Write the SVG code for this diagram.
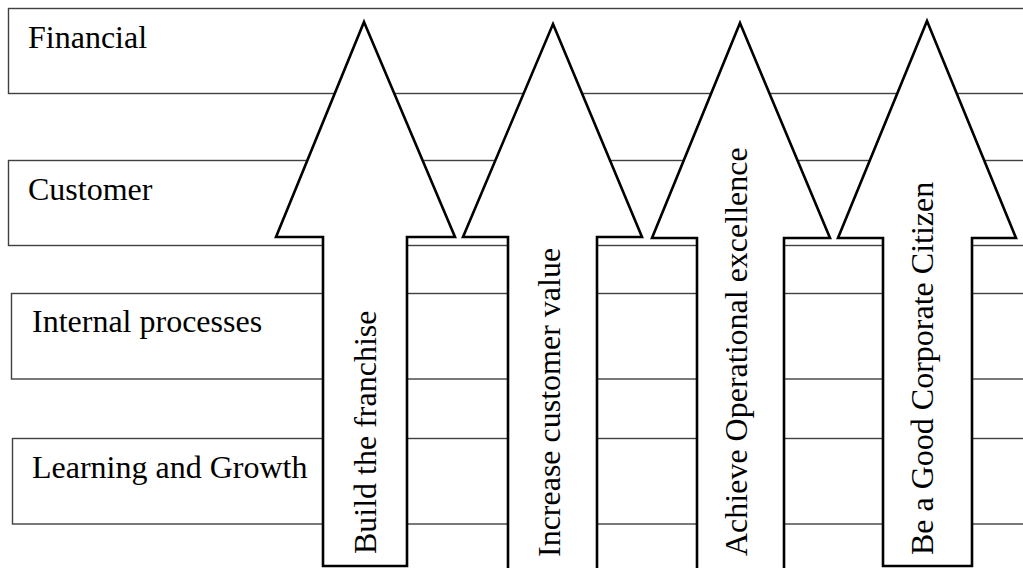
<svg xmlns="http://www.w3.org/2000/svg" width="1023" height="568" viewBox="0 0 1023 568">
  <style>
    .band { fill: #ffffff; stroke: #404040; stroke-width: 1.4; }
    .arrow { fill: #ffffff; stroke: #000000; stroke-width: 2.6; stroke-linejoin: miter; }
    .lbl { font-family: "Liberation Serif", "Times New Roman", serif; font-size: 32px; fill: #000000; }
  </style>
  <rect width="1023" height="568" fill="#ffffff"/>

  <!-- perspective bands -->
  <g id="financial">
    <rect class="band" x="8.5" y="8.5" width="1030" height="85"/>
    <text class="lbl" x="28" y="48">Financial</text>
  </g>
  <g id="customer">
    <rect class="band" x="8.5" y="160.5" width="1030" height="85"/>
    <text class="lbl" x="28" y="200">Customer</text>
  </g>
  <g id="internal">
    <rect class="band" x="11.5" y="293.5" width="1030" height="85.5"/>
    <text class="lbl" x="32" y="332">Internal processes</text>
  </g>
  <g id="learning">
    <rect class="band" x="12.5" y="438.5" width="1030" height="85.5"/>
    <text class="lbl" x="32" y="478">Learning and Growth</text>
  </g>

  <!-- strategic theme arrows -->
  <g id="connectors">
    <g id="arrow-franchise">
      <polygon class="arrow" points="364,22 455,237 407,237 407,566 323,566 323,237 276,237"/>
      <text class="lbl" transform="translate(376,554) rotate(-90)">Build the franchise</text>
    </g>
    <g id="arrow-customer-value">
      <polygon class="arrow" points="553,24 642,237 597,237 597,580 508,580 508,237 463,237"/>
      <text class="lbl" transform="translate(560,557) rotate(-90)">Increase customer value</text>
    </g>
    <g id="arrow-operational">
      <polygon class="arrow" points="740,23 830,238 784,238 784,580 697,580 697,238 652,238"/>
      <text class="lbl" transform="translate(747,556) rotate(-90)">Achieve Operational excellence</text>
    </g>
    <g id="arrow-citizen">
      <polygon class="arrow" points="927,21 1016,238 972,238 972,566 883,566 883,238 838,238"/>
      <text class="lbl" transform="translate(933,555) rotate(-90)">Be a Good Corporate Citizen</text>
    </g>
  </g>
</svg>
